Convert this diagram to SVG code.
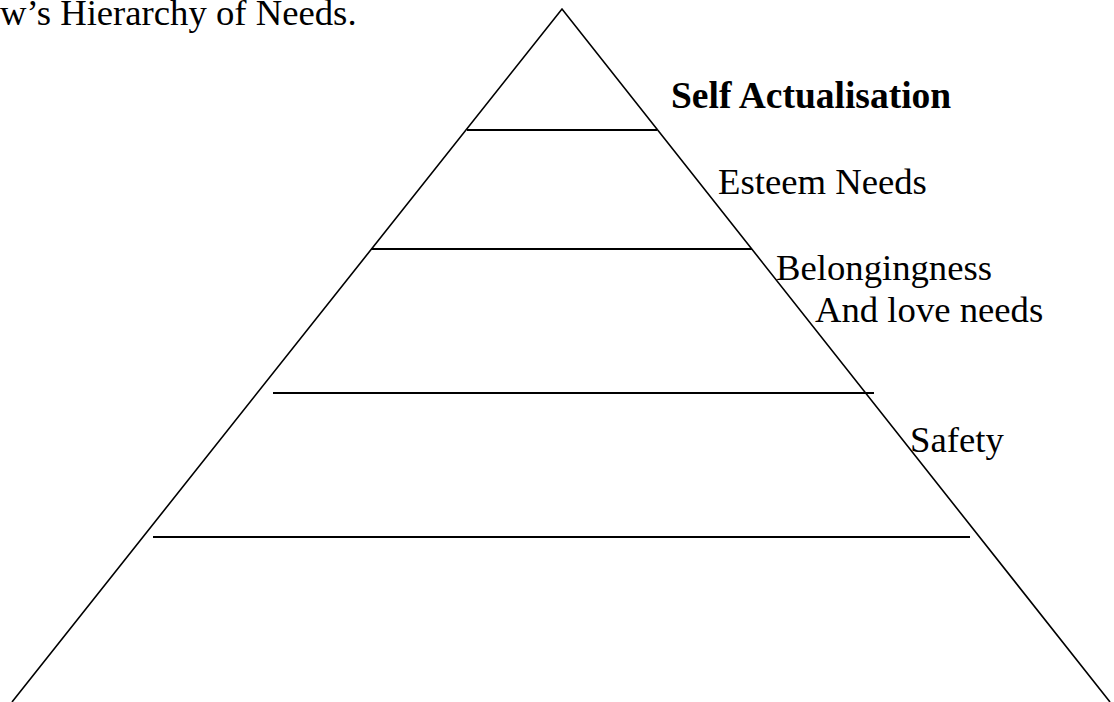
<svg xmlns="http://www.w3.org/2000/svg" width="1114" height="702" viewBox="0 0 1114 702">
<style>
.ln{stroke:#000;stroke-width:1.6;fill:none}
.hl{stroke:#000;stroke-width:2;fill:none}
.t{font-family:"Liberation Serif","Times New Roman",serif;font-size:36.7px;fill:#000}
.b{font-family:"Liberation Serif","Times New Roman",serif;font-size:37.5px;font-weight:bold;fill:#000}
</style>
<rect width="1114" height="702" fill="#fff"/>
<text id="title" class="t" x="0" y="25">w’s Hierarchy of Needs.</text>
<g id="connectors">
<polyline class="ln" points="12,702 562,9 1110,702"/>
<line class="hl" x1="467" y1="130" x2="657" y2="130"/>
<line class="hl" x1="371" y1="249" x2="752" y2="249"/>
<line class="hl" x1="273" y1="393" x2="874" y2="393"/>
<line class="hl" x1="153" y1="537" x2="970" y2="537"/>
</g>
<g id="self-actualisation"><text class="b" x="671" y="108">Self Actualisation</text></g>
<g id="esteem"><text class="t" x="718" y="194">Esteem Needs</text></g>
<g id="belongingness"><text class="t" x="776" y="280">Belongingness</text><text class="t" x="815" y="322">And love needs</text></g>
<g id="safety"><text class="t" x="910" y="452">Safety</text></g>
</svg>
